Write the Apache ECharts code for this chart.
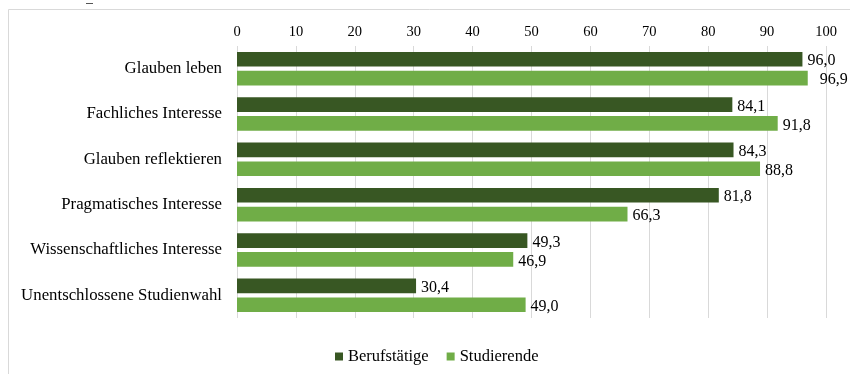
<!DOCTYPE html>
<html>
<head>
<meta charset="utf-8">
<script src="https://cdn.jsdelivr.net/npm/echarts@6/dist/echarts.min.js"></script>
<style>
  html, body { margin: 0; padding: 0; background: #fff; }
  #chart { width: 850px; height: 374px; }
</style>
</head>
<body>
<div id="chart"></div>
<script>
// Motive, in percent
const categories = [
  'Glauben leben',
  'Fachliches Interesse',
  'Glauben reflektieren',
  'Pragmatisches Interesse',
  'Wissenschaftliches Interesse',
  'Unentschlossene Studienwahl'
];
const berufstaetige = [96.0, 84.1, 84.3, 81.8, 49.3, 30.4];
const studierende = [96.9, 91.8, 88.8, 66.3, 46.9, 49.0];
const seriesNames = ['Berufstätige', 'Studierende'];

const FONT = '"Liberation Serif", "Times New Roman", serif';
const fmt = v => v.toFixed(1).replace('.', ',');

const chart = echarts.init(document.getElementById('chart'), null, { renderer: 'canvas' });

const labelCfg = {
  show: true,
  position: 'right',
  distance: 5,
  offset: [0, 2],
  color: '#000',
  fontFamily: FONT,
  fontSize: 16,
  formatter: p => fmt(p.value)
};

// the top label of the first group sits a little further out
const studierendeItems = studierende.map((v, i) =>
  i === 0 ? { value: v, label: { distance: 12 } } : v);

chart.setOption({
  animation: false,
  backgroundColor: '#fff',
  graphic: [
    // outer frame (top and left edges)
    { type: 'polyline', shape: { points: [[8.5, 380], [8.5, 9.5], [860, 9.5]] },
      style: { stroke: '#d9d9d9', lineWidth: 1, fill: null }, silent: true },
    { type: 'line', shape: { x1: 86, y1: 3.5, x2: 93, y2: 3.5 },
      style: { stroke: '#555', lineWidth: 1 }, silent: true }
  ],
  grid: { left: 237, right: 24, top: 46, bottom: 56, containLabel: false },
  legend: {
    data: seriesNames,
    top: 343,
    left: 330,
    itemWidth: 8,
    itemHeight: 8,
    itemGap: 18,
    icon: 'rect',
    textStyle: { fontFamily: FONT, fontSize: 16.5, color: '#000' }
  },
  xAxis: {
    type: 'value',
    position: 'top',
    min: 0,
    max: 100,
    interval: 10,
    axisLine: { show: false },
    axisTick: { show: false },
    axisLabel: { fontFamily: FONT, fontSize: 14.5, color: '#000', margin: 6 },
    splitLine: { show: true, lineStyle: { color: '#d9d9d9', width: 1 } }
  },
  yAxis: {
    type: 'category',
    data: categories,
    inverse: true,
    axisLine: { show: false },
    axisTick: { show: false },
    axisLabel: { fontFamily: FONT, fontSize: 16.8, color: '#000', margin: 15, padding: [4, 0, 0, 0] }
  },
  series: [
    {
      name: seriesNames[0],
      type: 'bar',
      data: berufstaetige,
      itemStyle: { color: '#385723' },
      barGap: '28%',
      barCategoryGap: '26%',
      label: labelCfg
    },
    {
      name: seriesNames[1],
      type: 'bar',
      data: studierendeItems,
      itemStyle: { color: '#70ad47' },
      barGap: '28%',
      barCategoryGap: '26%',
      label: labelCfg
    }
  ]
});
</script>
</body>
</html>
